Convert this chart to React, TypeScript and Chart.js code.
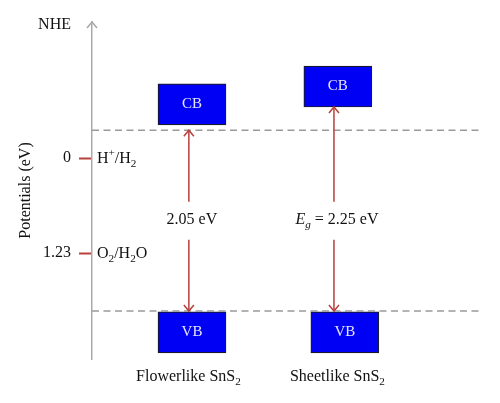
import { useEffect, useRef } from "react"
import { Chart, registerables } from "chart.js"

Chart.register(...registerables)

// materials placed along a hidden x axis (arbitrary units 0..10)
const materials = ["Flowerlike", "Sheetlike"]
const cbX = [2.57, 6.32]
const vbX = [2.57, 6.5]
const arrowX = [2.49, 6.22]

// band edges, potential vs NHE (eV), schematic
const cbTop = [-0.96, -1.19]
const cbBottom = [-0.43, -0.66]
const vbTop = [1.99, 1.99]
const vbBottom = [2.52, 2.52]

// band-gap arrows
const gapFrom = [-0.36, -0.66]
const gapTo = [1.98, 1.98]
const gapLabelAt = [0.8, 0.8]

// dashed reference levels
const dashedLevels = [-0.36, 1.98]

// redox couples on the potential axis
const yTicks = [0, 1.23]
const tickLabels = ["0", "1.23"]

const serif = "'Liberation Serif', 'Times New Roman', serif"
const arrowRed = "#b8403c"
const fs = 16

type Part = { t: string; sub?: boolean; sup?: boolean; italic?: boolean }

function drawRich(ctx: CanvasRenderingContext2D, parts: Part[], x: number, y: number, size: number, align: "left" | "center") {
  const fontFor = (p: Part) => {
    const s = p.sub || p.sup ? size * 0.7 : size
    return `${p.italic ? "italic " : ""}${s}px ${serif}`
  }
  let total = 0
  for (const p of parts) {
    ctx.font = fontFor(p)
    total += ctx.measureText(p.t).width
  }
  let cx = align === "center" ? x - total / 2 : x
  ctx.textAlign = "left"
  ctx.textBaseline = "middle"
  for (const p of parts) {
    ctx.font = fontFor(p)
    let dy = 0
    if (p.sub) dy = size * 0.3
    if (p.sup) dy = -size * 0.35
    ctx.fillText(p.t, cx, y + dy)
    cx += ctx.measureText(p.t).width
  }
}

function head(ctx: CanvasRenderingContext2D, x: number, y: number, dir: number) {
  ctx.beginPath()
  ctx.moveTo(x - 5, y - dir * 6)
  ctx.lineTo(x, y)
  ctx.lineTo(x + 5, y - dir * 6)
  ctx.stroke()
}

const bandPlugin = {
  id: "bandPlugin",
  afterDatasetsDraw(chart: Chart) {
    const ctx = chart.ctx
    const xs = chart.scales.x
    const ys = chart.scales.y
    const area = chart.chartArea
    ctx.save()

    // arrow on top of the potential axis
    ctx.strokeStyle = "#aaaaaa"
    ctx.lineWidth = 1.5
    head(ctx, area.left, area.top, -1)

    ctx.fillStyle = "#111"
    ctx.font = `${fs}px ${serif}`
    ctx.textAlign = "right"
    ctx.textBaseline = "middle"
    ctx.fillText("NHE", ys.right - 21, area.top + 3)

    // redox couples
    const couples: Part[][] = [
      [{ t: "H" }, { t: "+", sup: true }, { t: "/H" }, { t: "2", sub: true }],
      [{ t: "O" }, { t: "2", sub: true }, { t: "/H" }, { t: "2", sub: true }, { t: "O" }],
    ]
    couples.forEach((parts, i) => {
      drawRich(ctx, parts, area.left + 5, ys.getPixelForValue(yTicks[i]) + 1, fs, "left")
    })

    materials.forEach((name, i) => {
      const xc = xs.getPixelForValue(cbX[i])
      const xv = xs.getPixelForValue(vbX[i])
      const xa = xs.getPixelForValue(arrowX[i])

      // band labels
      ctx.fillStyle = "#e6e6ff"
      ctx.font = `15px ${serif}`
      ctx.textAlign = "center"
      ctx.textBaseline = "middle"
      ctx.fillText("CB", xc, ys.getPixelForValue((cbTop[i] + cbBottom[i]) / 2))
      ctx.fillText("VB", xv, ys.getPixelForValue((vbTop[i] + vbBottom[i]) / 2))

      // band-gap arrow with a break for its label
      const y1 = ys.getPixelForValue(gapFrom[i])
      const y2 = ys.getPixelForValue(gapTo[i])
      const ly = ys.getPixelForValue(gapLabelAt[i])
      ctx.strokeStyle = arrowRed
      ctx.lineWidth = 1.5
      ctx.beginPath()
      ctx.moveTo(xa, y1)
      ctx.lineTo(xa, ly - 18)
      ctx.moveTo(xa, ly + 20)
      ctx.lineTo(xa, y2)
      ctx.stroke()
      head(ctx, xa, y1, -1)
      head(ctx, xa, y2, 1)

      ctx.fillStyle = "#111"
      const gapParts: Part[] =
        i === 0
          ? [{ t: "2.05 eV" }]
          : [{ t: "E", italic: true }, { t: "g", italic: true, sub: true }, { t: " = 2.25 eV" }]
      drawRich(ctx, gapParts, xa + 3, ly, fs, "center")

      // material name under the chart
      drawRich(ctx, [{ t: `${name} SnS` }, { t: "2", sub: true }], (xa + xv) / 2 - 2, area.bottom + 18, fs, "center")
    })

    ctx.restore()
  },
}

export default function App() {
  const chartRef = useRef<HTMLCanvasElement>(null)
  const chartInstance = useRef<Chart | null>(null)

  useEffect(() => {
    if (!chartRef.current) return
    if (chartInstance.current) chartInstance.current.destroy()

    const boxStyle = {
      backgroundColor: "#0000f5",
      borderColor: "#1a1a2e",
      borderWidth: 1.2,
      borderSkipped: false,
      barThickness: 68,
      grouped: false,
    }

    chartInstance.current = new Chart(chartRef.current, {
      type: "bar",
      data: {
        datasets: [
          ...dashedLevels.map((lvl) => ({
            type: "line" as const,
            data: [
              { x: 0, y: lvl },
              { x: 10, y: lvl },
            ],
            borderColor: "#9a9a9a",
            borderWidth: 1.5,
            borderDash: [7, 4.5],
            pointRadius: 0,
            fill: false,
          })),
          {
            type: "bar" as const,
            label: "CB",
            data: cbX.map((x, i) => ({ x, y: [cbTop[i], cbBottom[i]] })),
            ...boxStyle,
          },
          {
            type: "bar" as const,
            label: "VB",
            data: vbX.map((x, i) => ({ x, y: [vbTop[i], vbBottom[i]] })),
            ...boxStyle,
          },
        ] as any,
      },
      options: {
        animation: false,
        responsive: true,
        maintainAspectRatio: false,
        layout: { padding: { top: 22, right: 19, bottom: 44, left: 0 } },
        scales: {
          x: { type: "linear", min: 0, max: 10, display: false, offset: false },
          y: {
            type: "linear",
            reverse: true,
            min: -1.76,
            max: 2.6,
            afterFit: (s: any) => {
              s.width = 92
            },
            afterBuildTicks: (s: any) => {
              s.ticks = yTicks.map((v) => ({ value: v }))
            },
            ticks: {
              callback: (_v: any, i: number) => tickLabels[i],
              font: { family: serif, size: fs },
              color: "#111",
              padding: 8,
            },
            grid: {
              drawOnChartArea: false,
              tickLength: 13,
              tickColor: arrowRed,
              tickWidth: 2,
            },
            border: { color: "#aaaaaa", width: 1.5 },
            title: {
              display: true,
              text: "Potentials (eV)",
              font: { family: serif, size: fs },
              color: "#111",
              padding: { top: 16, bottom: 0 },
            },
          },
        },
        plugins: {
          legend: { display: false },
          tooltip: { enabled: false },
        },
      },
      plugins: [bandPlugin],
    })

    return () => {
      if (chartInstance.current) {
        chartInstance.current.destroy()
        chartInstance.current = null
      }
    }
  }, [])

  return (
    <div style={{ position: "absolute", left: 0, top: 0, width: 500, height: 403, background: "#fff" }}>
      <canvas ref={chartRef} />
    </div>
  )
}
